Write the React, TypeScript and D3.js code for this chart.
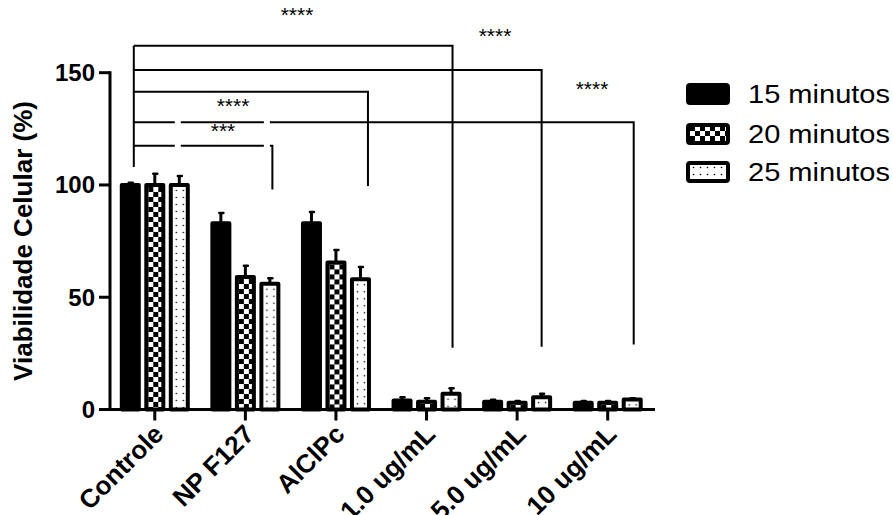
import React, { useEffect, useRef } from 'react'
import * as d3 from 'd3'

const categories = ['Controle', 'NP F127', 'AlClPc', '1.0 ug/mL', '5.0 ug/mL', '10 ug/mL']
const seriesNames = ['15 minutos', '20 minutos', '25 minutos']
const min15 = [100, 83, 83, 4, 3.5, 3]
const min20 = [100, 59, 65.5, 3.5, 3, 3]
const min25 = [100, 56, 58, 7, 5.5, 4.5]
const err15 = [1, 4.5, 5, 1.5, 0.8, 0.8]
const err20 = [5, 5, 5.5, 1.5, 0.8, 0.8]
const err25 = [4, 2.5, 5.5, 2.5, 1.5, 0.5]
const yTicks = [0, 50, 100, 150]

// significance brackets, Controle vs each group
const comparisons = [
  { to: '1.0 ug/mL', label: '****' },
  { to: '5.0 ug/mL', label: '****' },
  { to: 'AlClPc', label: '****' },
  { to: '10 ug/mL', label: '****' },
  { to: 'NP F127', label: '***' },
]

const FONT = 'Arial, "Liberation Sans", Helvetica, sans-serif'

export default function App() {
  const ref = useRef<SVGSVGElement>(null)

  useEffect(() => {
    const svg = d3.select(ref.current)
    svg.selectAll('*').remove()

    const values = [min15, min20, min25]
    const errors = [err15, err20, err25]

    const x = d3.scaleBand().domain(categories).range([109.5, 653]).padding(0)
    const y = d3.scaleLinear().domain([0, 150]).range([409.5, 72.7])
    const pitch = 24.5
    const barW = 17
    const bx = (cat: string, s: number) => (x(cat) as number) + x.bandwidth() / 2 + (s - 1) * pitch

    const defs = svg.append('defs')
    const makePattern = (id: string, s: number, ox: number, oy: number) => {
      const p = defs.append('pattern').attr('id', id).attr('patternUnits', 'userSpaceOnUse')
      if (s === 1) {
        p.attr('width', 10).attr('height', 10).attr('x', ox).attr('y', oy)
        p.append('rect').attr('width', 10).attr('height', 10).attr('fill', '#fff')
        p.append('rect').attr('width', 5).attr('height', 5).attr('fill', '#000')
        p.append('rect').attr('x', 5).attr('y', 5).attr('width', 5).attr('height', 5).attr('fill', '#000')
      } else {
        p.attr('width', 7).attr('height', 7).attr('x', ox).attr('y', oy)
        p.append('rect').attr('width', 7).attr('height', 7).attr('fill', '#fff')
        p.append('circle').attr('cx', 3.5).attr('cy', 3.5).attr('r', 0.8).attr('fill', '#000')
      }
    }

    const fillFor = (s: number, id: string) => (s === 0 ? '#000' : `url(#${id})`)

    // bars
    const g = svg.append('g')
    categories.forEach((cat, ci) => {
      seriesNames.forEach((_, s) => {
        const v = values[s][ci]
        const e = errors[s][ci]
        const cx = bx(cat, s)
        const id = `p-${ci}-${s}`
        if (s > 0) makePattern(id, s, cx - barW / 2 + 2, y(v) + 2)
        // error bar (upper only)
        g.append('line')
          .attr('x1', cx).attr('x2', cx)
          .attr('y1', y(v)).attr('y2', y(v + e))
          .attr('stroke', '#000').attr('stroke-width', 3)
        g.append('line')
          .attr('x1', cx - 1.5).attr('x2', cx + 2.5)
          .attr('y1', y(v + e)).attr('y2', y(v + e))
          .attr('stroke', '#000').attr('stroke-width', 2.5).attr('stroke-linecap', 'round')
        g.append('rect')
          .attr('x', cx - barW / 2)
          .attr('y', y(v))
          .attr('width', barW)
          .attr('height', y(0) - y(v))
          .attr('fill', fillFor(s, id))
          .attr('stroke', '#000')
          .attr('stroke-width', 4)
          .attr('stroke-linejoin', 'round')
      })
    })

    // axes
    const yAxis = svg.append('g')
    yAxis.append('line')
      .attr('x1', 110).attr('x2', 110).attr('y1', y(150) - 1.5).attr('y2', y(0) + 1.5)
      .attr('stroke', '#000').attr('stroke-width', 3)
    yTicks.forEach(t => {
      yAxis.append('line')
        .attr('x1', 99).attr('x2', 110).attr('y1', y(t)).attr('y2', y(t))
        .attr('stroke', '#000').attr('stroke-width', 3)
      yAxis.append('text')
        .attr('x', 95).attr('y', y(t) + 8.5)
        .attr('text-anchor', 'end')
        .style('font-family', FONT).style('font-weight', 'bold').style('font-size', '24px')
        .text(t)
    })

    const xAxis = svg.append('g')
    xAxis.append('line')
      .attr('x1', 108.5).attr('x2', 655).attr('y1', y(0)).attr('y2', y(0))
      .attr('stroke', '#000').attr('stroke-width', 3)
    categories.forEach(cat => {
      const cx = (x(cat) as number) + x.bandwidth() / 2
      xAxis.append('line')
        .attr('x1', cx).attr('x2', cx).attr('y1', y(0)).attr('y2', y(0) + 11)
        .attr('stroke', '#000').attr('stroke-width', 3)
      xAxis.append('text')
        .attr('transform', `translate(${cx - 3},${y(0) + 13}) rotate(-45)`)
        .attr('text-anchor', 'end')
        .attr('dy', '0.72em')
        .style('font-family', FONT).style('font-weight', 'bold').style('font-size', '26px')
        .text(cat)
    })

    svg.append('text')
      .attr('transform', `translate(32,241) rotate(-90)`)
      .attr('text-anchor', 'middle')
      .style('font-family', FONT).style('font-weight', 'bold').style('font-size', '26px')
      .text('Viabilidade Celular (%)')

    // significance brackets
    const lineY = [45.7, 70, 91.7, 122.3, 145.7]
    const endV = [27.5, 28, 99.5, 29, 98]
    const endDx = [1.5, 0, 7.5, 1.5, 2.5]
    const textPos = [[297, 22], [495, 43], [233, 113], [592, 96], [223, 138]]
    const leftX = (x('Controle') as number) + x.bandwidth() / 2 - 21
    const gapCenters = [bx('Controle', 2) - 1.5, bx('NP F127', 2) - 3]
    const br = svg.append('g').attr('fill', 'none').attr('stroke', '#000').attr('stroke-width', 2)
    comparisons.forEach((c, i) => {
      const rx = bx(c.to, 2) + endDx[i]
      const ly = lineY[i]
      const gaps = i >= 3 ? gapCenters.filter(gx => gx < rx) : []
      const path = d3.path()
      path.moveTo(leftX, ly)
      gaps.forEach(gx => {
        path.lineTo(gx - 3, ly)
        path.moveTo(gx + 3, ly)
      })
      path.lineTo(rx, ly)
      path.lineTo(rx, y(endV[i]))
      br.append('path').attr('d', path.toString())
      svg.append('text')
        .attr('x', textPos[i][0]).attr('y', textPos[i][1])
        .attr('text-anchor', 'middle')
        .style('font-family', FONT).style('font-size', '21px')
        .text(c.label)
    })
    br.append('line')
      .attr('x1', leftX).attr('x2', leftX).attr('y1', lineY[0]).attr('y2', y(108))

    // legend
    const lg = svg.append('g')
    const legY = [94, 134, 172]
    seriesNames.forEach((name, s) => {
      const id = `leg-${s}`
      if (s > 0) makePattern(id, s, 690, legY[s] - 8)
      lg.append('rect')
        .attr('x', 688).attr('y', legY[s] - 9)
        .attr('width', 40).attr('height', 18)
        .attr('rx', 2)
        .attr('fill', fillFor(s, id))
        .attr('stroke', '#000').attr('stroke-width', 4)
        .attr('stroke-linejoin', 'round')
      lg.append('text')
        .attr('x', 748).attr('y', legY[s] + 9)
        .attr('textLength', 142)
        .attr('lengthAdjust', 'spacingAndGlyphs')
        .style('font-family', FONT).style('font-size', '25px')
        .text(name)
    })
  }, [])

  return (
    <svg ref={ref} width={893} height={515}
      style={{ position: 'absolute', left: 0, top: 0, background: '#fff' }} />
  )
}
